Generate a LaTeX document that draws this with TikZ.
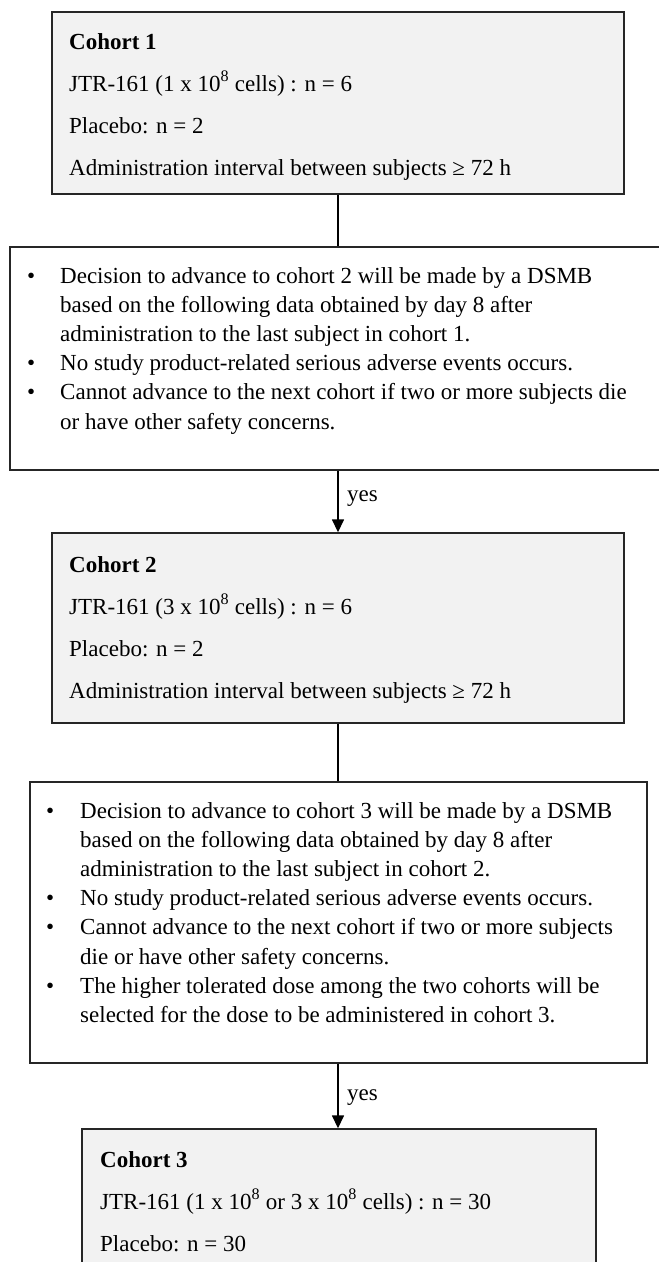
\documentclass[tikz,border=0pt]{standalone}
\usepackage{fontspec}
\setmainfont{Liberation Serif}
\usetikzlibrary{arrows.meta}
\definecolor{boxgray}{HTML}{F2F2F2}
\tikzset{
  cbox/.style={draw=black!85, line width=1.4pt, fill=boxgray, inner sep=0pt},
  dbox/.style={draw=black!85, line width=1.4pt, fill=white, inner sep=0pt},
  txt/.style={anchor=base west, inner sep=0pt, font=\fontsize{23}{28}\selectfont},
  link/.style={line width=1.5pt, draw=black},
  arrowline/.style={link, -{Triangle[width=12pt,length=13pt]}},
}
\begin{document}
\begin{tikzpicture}[x=1pt,y=-1pt]
\useasboundingbox (0,0) rectangle (659,1262);
% boxes
\node[cbox, minimum width=572pt, minimum height=182pt] (c1) at (338,103) {};
\node[dbox, minimum width=690pt, minimum height=223pt] (d1) at (355,358.5) {};
\node[cbox, minimum width=572pt, minimum height=190pt] (c2) at (338,628) {};
\node[dbox, minimum width=617pt, minimum height=281pt] (d2) at (338.5,922.5) {};
\node[cbox, minimum width=514pt, minimum height=171pt] (c3) at (339,1214.5) {};
% connectors
\draw[link] (c1.south) -- (c1.south |- d1.north);
\draw[arrowline] (c1.south |- d1.south) -- (c2.north);
\draw[link] (c2.south) -- (c2.south |- d2.north);
\draw[arrowline] (c2.south |- d2.south) -- (c2.south |- c3.north);
\node[txt] (y1) at (347,501) {yes};
\node[txt] (y2) at (347,1100) {yes};
% cohort 1
\node[txt] (c1a) at (69,49) {\textbf{Cohort 1}};
\node[txt] (c1b) at (69,91) {JTR-161 (1 x 10\textsuperscript{8} cells) : n = 6};
\node[txt] (c1c) at (69,133) {Placebo: n = 2};
\node[txt] (c1d) at (69,175) {Administration interval between subjects ≥ 72 h};
% decision 1
\node[txt] (d1b1) at (27,283) {•};
\node[txt] (d1t1) at (60,283) {Decision to advance to cohort 2 will be made by a DSMB};
\node[txt] (d1t2) at (60,312.2) {based on the following data obtained by day 8 after};
\node[txt] (d1t3) at (60,341.4) {administration to the last subject in cohort 1.};
\node[txt] (d1b2) at (27,370.6) {•};
\node[txt] (d1t4) at (60,370.6) {No study product-related serious adverse events occurs.};
\node[txt] (d1b3) at (27,399.8) {•};
\node[txt] (d1t5) at (60,399.8) {Cannot advance to the next cohort if two or more subjects die};
\node[txt] (d1t6) at (60,429) {or have other safety concerns.};
% cohort 2
\node[txt] (c2a) at (69,572) {\textbf{Cohort 2}};
\node[txt] (c2b) at (69,614) {JTR-161 (3 x 10\textsuperscript{8} cells) : n = 6};
\node[txt] (c2c) at (69,656) {Placebo: n = 2};
\node[txt] (c2d) at (69,698) {Administration interval between subjects ≥ 72 h};
% decision 2
\node[txt] (d2b1) at (46,818) {•};
\node[txt] (d2t1) at (80,818) {Decision to advance to cohort 3 will be made by a DSMB};
\node[txt] (d2t2) at (80,847.2) {based on the following data obtained by day 8 after};
\node[txt] (d2t3) at (80,876.4) {administration to the last subject in cohort 2.};
\node[txt] (d2b2) at (46,905.6) {•};
\node[txt] (d2t4) at (80,905.6) {No study product-related serious adverse events occurs.};
\node[txt] (d2b3) at (46,934.8) {•};
\node[txt] (d2t5) at (80,934.8) {Cannot advance to the next cohort if two or more subjects};
\node[txt] (d2t6) at (80,964) {die or have other safety concerns.};
\node[txt] (d2b4) at (46,993.2) {•};
\node[txt] (d2t7) at (80,993.2) {The higher tolerated dose among the two cohorts will be};
\node[txt] (d2t8) at (80,1022.4) {selected for the dose to be administered in cohort 3.};
% cohort 3
\node[txt] (c3a) at (100,1167) {\textbf{Cohort 3}};
\node[txt] (c3b) at (100,1209) {JTR-161 (1 x 10\textsuperscript{8} or 3 x 10\textsuperscript{8} cells) : n = 30};
\node[txt] (c3c) at (100,1251) {Placebo: n = 30};
\end{tikzpicture}
\end{document}
